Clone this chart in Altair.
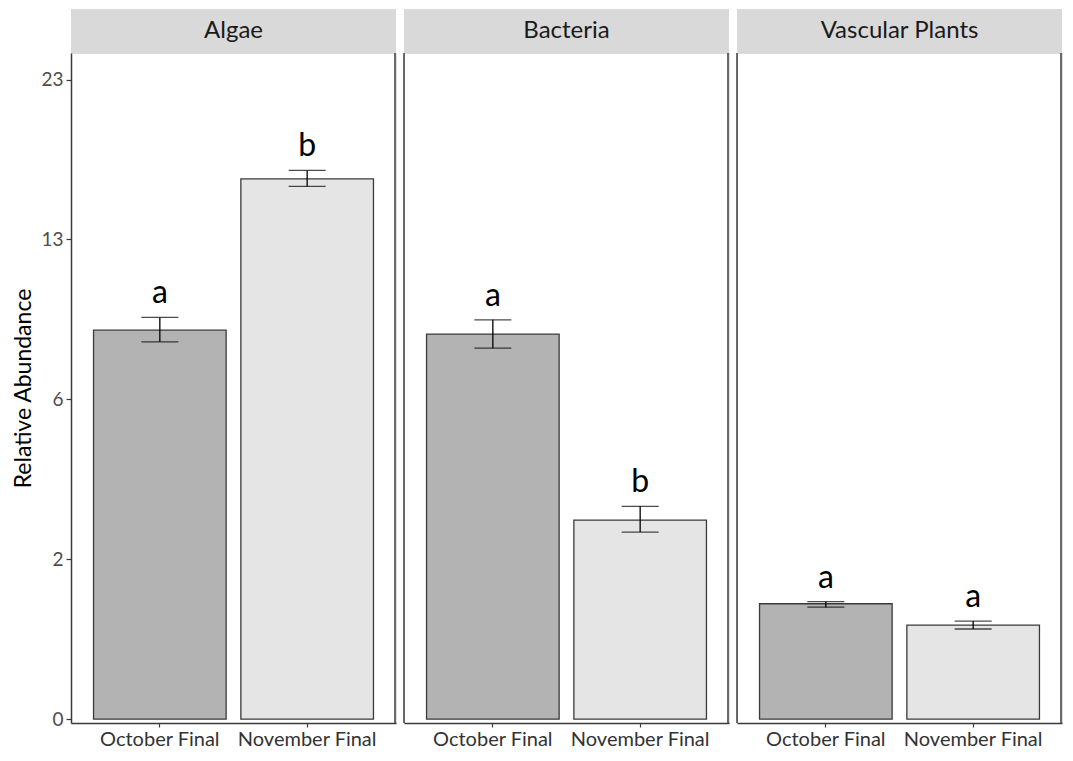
import json
import altair as alt
import pandas as pd

# ---- data ----
groups = ["Algae", "Bacteria", "Vascular Plants"]
months = ["October Final", "November Final"]
row_groups = ["Algae", "Algae", "Bacteria", "Bacteria", "Vascular Plants", "Vascular Plants"]
row_months = ["October Final", "November Final"] * 3
means = [8.52, 16.44, 8.35, 2.23, 0.749, 0.498]
lowers = [8.02, 15.99, 7.75, 1.97, 0.705, 0.457]
uppers = [9.09, 16.96, 8.98, 2.55, 0.778, 0.541]
letters = ["a", "b", "a", "b", "a", "a"]
tick_values = [0, 1.44, 5.76, 12.96, 23.04]
tick_labels = ["0", "2", "6", "13", "23"]
bar_colors = ["#b3b3b3", "#e5e5e5"]

df = pd.DataFrame({
    "group": row_groups,
    "month": row_months,
    "mean": means,
    "lower": lowers,
    "upper": uppers,
    "letter": letters,
    "zero": [0] * len(means),
})

FONT = "Lato"
LINE = "#3a3a3a"
W, H = 325, 670
STRIP = 44

yscale = alt.Scale(type="sqrt", domain=[-0.00088, 25.0], nice=False, zero=False)
xscale = alt.Scale(domain=months, paddingInner=0.1, paddingOuter=0.153)
label_expr = "{}[indexof({}, datum.value)]".format(json.dumps(tick_labels), json.dumps(tick_values))


def panel(i, g):
    base = alt.Chart(df).transform_filter(alt.datum.group == g)
    one = base.transform_filter(alt.datum.month == months[0])
    x_axis = alt.Axis(title=None, labelFont=FONT, labelFontSize=20, labelColor="#333333",
                      labelAngle=0, domainColor=LINE, domainWidth=1.5, tickColor=LINE,
                      tickSize=4, tickWidth=1.2, labelPadding=2)
    if i == 0:
        y_axis = alt.Axis(title="Relative Abundance", values=tick_values, labelExpr=label_expr,
                          grid=False, domainColor=LINE, domainWidth=1.5, tickColor=LINE,
                          tickWidth=1.2, tickSize=5, labelPadding=3, labelFont=FONT,
                          labelFontSize=19, labelColor="#4d4d4d", titleFont=FONT,
                          titleFontSize=23, titleFontWeight="normal", titleColor="black",
                          titlePadding=5)
    else:
        y_axis = None

    X = alt.X("month:N", scale=xscale, axis=x_axis, sort=months)

    def Y(f):
        return alt.Y(f, scale=yscale, axis=y_axis)

    bars = base.mark_bar(stroke=LINE, strokeWidth=1.3).encode(
        x=X, y=Y("mean:Q"), y2="zero:Q",
        fill=alt.Fill("month:N", scale=alt.Scale(domain=months, range=bar_colors), legend=None),
    )
    err = base.mark_rule(color="black", strokeWidth=1.3).encode(x=X, y=Y("lower:Q"), y2="upper:Q")
    cap_top = base.mark_tick(color="black", size=37, thickness=1.3).encode(x=X, y=Y("upper:Q"))
    cap_bot = base.mark_tick(color="black", size=37, thickness=1.3).encode(x=X, y=Y("lower:Q"))
    lett = base.mark_text(font=FONT, fontSize=32, baseline="bottom", dy=-7, color="black").encode(
        x=X, y=Y("upper:Q"), text="letter:N")

    strip_rect = one.mark_rect(color="#d9d9d9").encode(
        x=alt.value(0), x2=alt.value(W), y=alt.value(-STRIP), y2=alt.value(0))
    strip_text = one.mark_text(font=FONT, fontSize=24, color="#1a1a1a", baseline="middle",
                               align="center").encode(
        x=alt.value(W / 2), y=alt.value(-STRIP / 2), text="group:N")
    right_rule = one.mark_rule(color=LINE, strokeWidth=1.5).encode(
        x=alt.value(W - 1), y=alt.value(0), y2=alt.value(H))
    layers = [strip_rect, strip_text, bars, err, cap_top, cap_bot, lett, right_rule]
    if i > 0:
        left_rule = one.mark_rule(color=LINE, strokeWidth=1.5).encode(
            x=alt.value(0), y=alt.value(0), y2=alt.value(H))
        layers.append(left_rule)
    return alt.layer(*layers).properties(width=W, height=H)


chart = alt.hconcat(*[panel(i, g) for i, g in enumerate(groups)], spacing=5).properties(
    padding={"left": 4, "top": 0, "right": 0, "bottom": 0}
).configure_view(stroke=None).configure(font=FONT)

chart.save("out.html", embed_options={"renderer": "svg", "actions": False})
